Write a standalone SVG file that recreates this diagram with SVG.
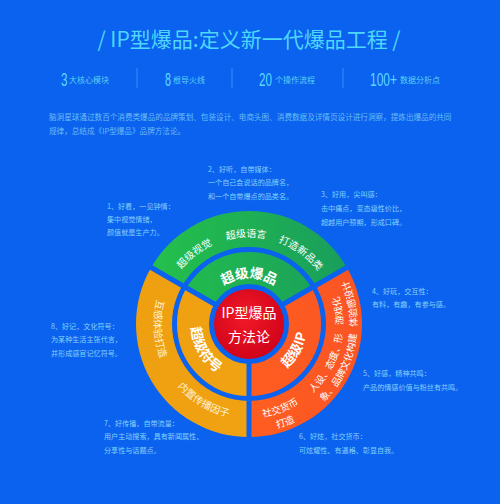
<svg xmlns="http://www.w3.org/2000/svg" xmlns:xlink="http://www.w3.org/1999/xlink" width="500" height="504" viewBox="0 0 500 504">
<style>
.cjk{font-family:"Noto Sans CJK SC","Noto Sans",sans-serif;}
.title{font-size:21px;fill:#4fd6fb;}
.num{font-family:"Liberation Sans",Arial,sans-serif;font-size:18px;fill:#5cd8ff;}
.slab{font-size:8px;fill:#5ccff5;}
.para{font-size:7.6px;fill:#6bbcf3;}
.note{font-size:7.1px;fill:#86d0fa;}
.ring{font-size:10px;fill:#ffffff;}
.ringr{font-size:9.6px;fill:#ffffff;}
.ringo{font-size:10px;fill:#fff4dc;}
.inner{font-size:13.5px;font-weight:bold;fill:#ffffff;}
.core{font-size:14px;fill:#ffffff;}
.gap{stroke:#0a62ef;stroke-width:5;fill:none;}
.div{stroke:#3d8cf7;stroke-width:1;}
</style>
<defs>
<linearGradient id="gGreen" gradientUnits="userSpaceOnUse" x1="136" y1="0" x2="362" y2="0">
<stop offset="0" stop-color="#25c34a"/><stop offset="1" stop-color="#189b5e"/>
</linearGradient>
<linearGradient id="gOrange" gradientUnits="userSpaceOnUse" x1="136" y1="0" x2="249" y2="0">
<stop offset="0" stop-color="#eea010"/><stop offset="1" stop-color="#f0a212"/>
</linearGradient>
<linearGradient id="gRed" gradientUnits="userSpaceOnUse" x1="249" y1="0" x2="362" y2="0">
<stop offset="0" stop-color="#ff5e20"/><stop offset="1" stop-color="#fa5424"/>
</linearGradient>
<radialGradient id="gCore" cx="0.45" cy="0.4" r="0.65">
<stop offset="0" stop-color="#f21a28"/><stop offset="1" stop-color="#cc0018"/>
</radialGradient>
<path id="cw87" d="M162,324 A87,87 0 0 1 336,324 A87,87 0 0 1 162,324"/>
<path id="cw46" d="M203,324 A46,46 0 0 1 295,324 A46,46 0 0 1 203,324"/>
<path id="ccw95" d="M249,229 A95,95 0 0 0 249,419 A95,95 0 0 0 249,229"/>
<path id="ccw94" d="M249,230 A94,94 0 0 0 249,418 A94,94 0 0 0 249,230"/>
<path id="ccw108" d="M249,216 A108,108 0 0 0 249,432 A108,108 0 0 0 249,216"/>
<path id="ccw58" d="M249,266 A58,58 0 0 0 249,382 A58,58 0 0 0 249,266"/>
</defs>
<rect x="0" y="0" width="500" height="504" fill="#0a62ef"/>

<g id="header">
<text class="cjk title" x="249" y="47" text-anchor="middle">/ IP型爆品:定义新一代爆品工程 /</text>
</g>

<g id="stats">
<text class="num" x="61" y="86" textLength="6.5" lengthAdjust="spacingAndGlyphs">3</text>
<text class="cjk slab" x="69" y="83">大核心模块</text>
<text class="num" x="165" y="86" textLength="6" lengthAdjust="spacingAndGlyphs">8</text>
<text class="cjk slab" x="173" y="83">根导火线</text>
<text class="num" x="259" y="86" textLength="13" lengthAdjust="spacingAndGlyphs">20</text>
<text class="cjk slab" x="275" y="83">个操作流程</text>
<text class="num" x="370" y="86" textLength="27" lengthAdjust="spacingAndGlyphs">100+</text>
<text class="cjk slab" x="400" y="83">数据分析点</text>
<line class="div" x1="137" y1="68" x2="137" y2="88"/>
<line class="div" x1="232" y1="68" x2="232" y2="88"/>
<line class="div" x1="343" y1="68" x2="343" y2="88"/>
</g>

<g id="intro">
<text class="cjk para" x="49" y="120">脑洞星球通过数百个消费类爆品的品牌策划、包装设计、电商头图、消费数据及详情页设计进行洞察，提炼出爆品的共同</text>
<text class="cjk para" x="49" y="134">规律，总结成《IP型爆品》品牌方法论。</text>
</g>

<g id="sector-green">
<path d="M249,324 L151.14,267.5 A113,113 0 0 1 346.86,267.5 Z" fill="url(#gGreen)"/>
</g>
<g id="sector-red">
<path d="M249,324 L346.86,267.5 A113,113 0 0 1 249,437 Z" fill="url(#gRed)"/>
</g>
<g id="sector-orange">
<path d="M249,324 L249,437 A113,113 0 0 1 151.14,267.5 Z" fill="url(#gOrange)"/>
</g>
<g id="gaps">
<circle class="gap" cx="249" cy="324" r="74.5"/>
<line class="gap" x1="249" y1="324" x2="148.54" y2="266"/>
<line class="gap" x1="249" y1="324" x2="349.46" y2="266"/>
<line class="gap" x1="249" y1="324" x2="249" y2="440"/>
</g>

<g id="labels-green">
<text class="cjk ring" text-anchor="middle"><textPath href="#cw87" startOffset="78.96">超级视觉</textPath></text>
<text class="cjk ring" text-anchor="middle"><textPath href="#cw87" startOffset="133.6">超级语言</textPath></text>
<text class="cjk ring" text-anchor="middle"><textPath href="#cw87" startOffset="191.3">打造新品类</textPath></text>
<text class="cjk inner" text-anchor="middle"><textPath href="#cw46" startOffset="72.26">超级爆品</textPath></text>
</g>
<g id="labels-orange">
<text class="cjk ringo" text-anchor="middle"><textPath href="#ccw95" startOffset="154.2">互感体验打造</textPath></text>
<text class="cjk ringo" text-anchor="middle"><textPath href="#ccw95" startOffset="247.05">内置传播因子</textPath></text>
<text class="cjk inner" text-anchor="middle"><textPath href="#ccw58" startOffset="121.5">超级符号</textPath></text>
</g>
<g id="labels-red">
<text class="cjk ringr" text-anchor="middle"><textPath href="#ccw94" startOffset="328.1">社交货币</textPath></text>
<text class="cjk ringr" text-anchor="middle"><textPath href="#ccw108" startOffset="377">打造</textPath></text>
<text class="cjk ringr" text-anchor="middle"><textPath href="#ccw94" startOffset="398.7">人设、态度、形</textPath></text>
<text class="cjk ringr" text-anchor="middle"><textPath href="#ccw108" startOffset="459.9">象、品牌文化构建</textPath></text>
<text class="cjk ringr" text-anchor="middle"><textPath href="#ccw94" startOffset="456.1">游戏化</textPath></text>
<text class="cjk ringr" text-anchor="middle"><textPath href="#ccw108" startOffset="529.7">体验感设计</textPath></text>
<text class="cjk inner" text-anchor="middle"><textPath href="#ccw58" startOffset="243">超级IP</textPath></text>
</g>

<g id="core">
<circle cx="249" cy="324" r="37.5" fill="url(#gCore)" stroke="#0a62ef" stroke-width="5"/>
<text class="cjk core" x="249" y="318" text-anchor="middle">IP型爆品</text>
<text class="cjk core" x="249" y="342" text-anchor="middle">方法论</text>
</g>

<g id="connectors"></g>

<g id="note-1">
<text class="cjk note" x="107" y="209">1、好看，一见钟情：</text>
<text class="cjk note" x="107" y="222">集中视觉情绪，</text>
<text class="cjk note" x="107" y="235">颜值就是生产力。</text>
</g>
<g id="note-2">
<text class="cjk note" x="208" y="172">2、好听，自带媒体：</text>
<text class="cjk note" x="208" y="185">一个自己会说话的品牌名，</text>
<text class="cjk note" x="208" y="198.5">和一个自带爆点的品类名。</text>
</g>
<g id="note-3">
<text class="cjk note" x="321" y="197">3、好用，尖叫感：</text>
<text class="cjk note" x="321" y="211">击中痛点，变态级性价比，</text>
<text class="cjk note" x="321" y="224.5">超越用户预期，形成口碑。</text>
</g>
<g id="note-4">
<text class="cjk note" x="372" y="293.5">4、好玩，交互性：</text>
<text class="cjk note" x="372" y="307">有料，有趣，有参与感。</text>
</g>
<g id="note-5">
<text class="cjk note" x="363" y="375.5">5、好感，精神共鸣：</text>
<text class="cjk note" x="363" y="389.5">产品的情感价值与粉丝有共鸣。</text>
</g>
<g id="note-6">
<text class="cjk note" x="299" y="439">6、好炫，社交货币：</text>
<text class="cjk note" x="299" y="453">可炫耀性、有逼格、彰显自我。</text>
</g>
<g id="note-7">
<text class="cjk note" x="104" y="426">7、好传播，自带流量：</text>
<text class="cjk note" x="104" y="439">用户主动搜索，具有新闻属性、</text>
<text class="cjk note" x="104" y="453">分享性与话题点。</text>
</g>
<g id="note-8">
<text class="cjk note" x="51" y="329">8、好记，文化符号：</text>
<text class="cjk note" x="51" y="342">为某种生活主张代言，</text>
<text class="cjk note" x="51" y="355.5">并形成感官记忆符号。</text>
</g>
</svg>
